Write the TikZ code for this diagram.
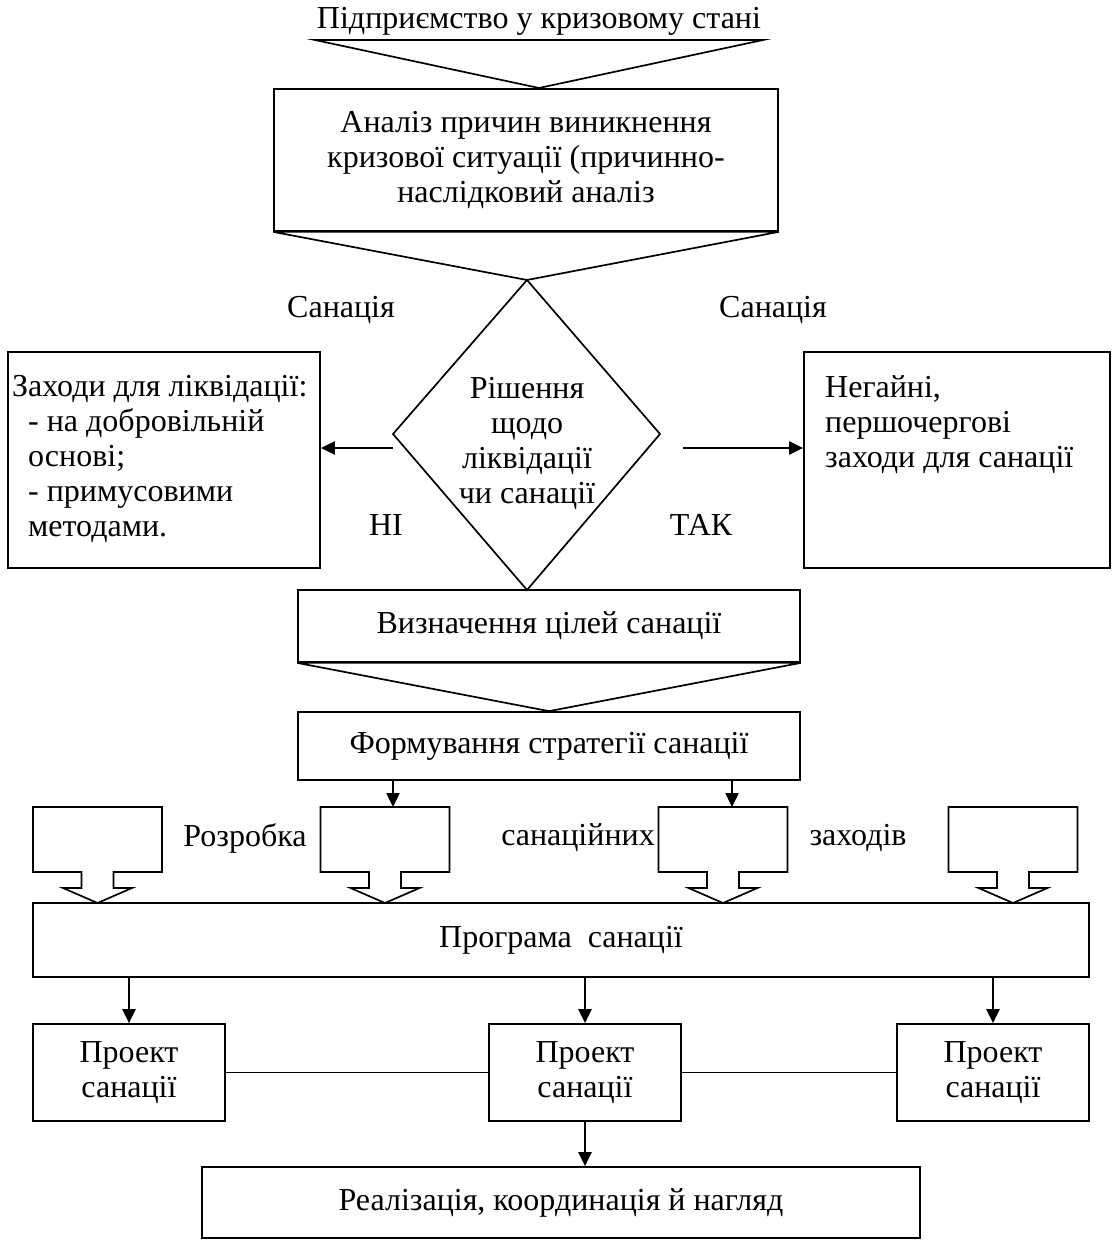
\documentclass[tikz,border=0pt]{standalone}
\usepackage{fontspec}
\setmainfont{Liberation Serif}
\usetikzlibrary{arrows.meta}
\begin{document}
\begin{tikzpicture}[x=1pt,y=-1pt,
  every node/.style={font=\fontsize{32}{35}\selectfont, inner sep=0pt},
  ln/.style={line width=1.7pt, line join=miter},
  box/.style={draw, line width=1.7pt},
  arr/.style={line width=2.4pt, -{Triangle[length=14pt,width=13pt]}},
  callout/.pic={\draw[ln] (-64.5,0) -- (64.5,0) -- (64.5,65) -- (16,65) -- (16,81) -- (34.5,81) -- (0,96) -- (-34.5,81) -- (-16,81) -- (-16,65) -- (-64.5,65) -- cycle;}
]
\useasboundingbox (0,0) rectangle (1113,1241);

% title and first funnel
\node (t) at (539,21) {Підприємство у кризовому стані};
\coordinate (tl) at (315,40);
\coordinate (tr) at (763,40);
\node[box, minimum width=504pt, minimum height=142pt, align=center] (b1) at (526,160)
  {Аналіз причин виникнення\\кризової ситуації (причинно-\\наслідковий аналіз};
\draw[ln] (tl) -- (tr) -- (539,88) -- cycle;

% decision diamond
\coordinate (dN) at (527,280);
\coordinate (dE) at (660,434);
\coordinate (dS) at (527,590);
\coordinate (dW) at (393,434);
\draw[ln] (b1.south west) -- (b1.south east) -- (dN) -- cycle;
\draw[ln] (dN) -- (dE) -- (dS) -- (dW) -- cycle;
\node[align=center] (dt) at (527,443) {Рішення\\щодо\\ліквідації\\чи санації};

\node (san1) at (341,310) {Санація};
\node (san2) at (773,310) {Санація};
\node (ni) at (386,525) {НІ};
\node (tak) at (701,525) {ТАК};

% side boxes
\node[box, minimum width=312pt, minimum height=216pt] (lb) at (164,460) {};
\node[anchor=north west, align=left] (lbt) at (12,375)
  {Заходи для ліквідації:\\\hspace*{16pt}- на добровільній\\\hspace*{16pt}основі;\\\hspace*{16pt}- примусовими\\\hspace*{16pt}методами.};
\node[box, minimum width=306pt, minimum height=216pt] (rb) at (957,460) {};
\node[anchor=north west, align=left] (rbt) at (825,375)
  {Негайні,\\першочергові\\заходи для санації};

\coordinate (la) at (393,448);
\coordinate (ra) at (683,448);
\draw[arr] (la) -- (la -| lb.east);
\draw[arr] (ra) -- (ra -| rb.west);

% goals and strategy
\node[box, minimum width=502pt, minimum height=72pt] (v1) at (549,626) {Визначення цілей санації};
\node[box, minimum width=502pt, minimum height=68pt] (f1) at (549,746) {Формування стратегії санації};
\draw[ln] (v1.south west) -- (v1.south east) -- (f1.north) -- cycle;

% callout arrows
\pic at (97.5,807) {callout};
\pic at (385,807) {callout};
\pic at (723,807) {callout};
\pic at (1013,807) {callout};
\coordinate (a2) at (393,807);
\coordinate (a3) at (732,807);
\draw[arr] (a2 |- f1.south) -- (a2);
\draw[arr] (a3 |- f1.south) -- (a3);

\node (w1) at (245,838) {Розробка};
\node (w2) at (578,838) {санаційних};
\node (w3) at (858,838) {заходів};

% programme
\node[box, minimum width=1056pt, minimum height=74pt] (pr) at (561,940) {Програма \ санації};

\node[box, minimum width=192pt, minimum height=97pt, align=center] (p1) at (129,1072.5) {Проект\\санації};
\node[box, minimum width=192pt, minimum height=97pt, align=center] (p2) at (585,1072.5) {Проект\\санації};
\node[box, minimum width=192pt, minimum height=97pt, align=center] (p3) at (993,1072.5) {Проект\\санації};

\draw[arr] (p1.north |- pr.south) -- (p1.north);
\draw[arr] (p2.north |- pr.south) -- (p2.north);
\draw[arr] (p3.north |- pr.south) -- (p3.north);
\draw[ln] (p1.east) -- (p2.west);
\draw[ln] (p2.east) -- (p3.west);

\node[box, minimum width=718pt, minimum height=71pt] (fin) at (561,1202.5) {Реалізація, координація й нагляд};
\draw[arr] (p2.south) -- (p2.south |- fin.north);
\end{tikzpicture}
\end{document}
